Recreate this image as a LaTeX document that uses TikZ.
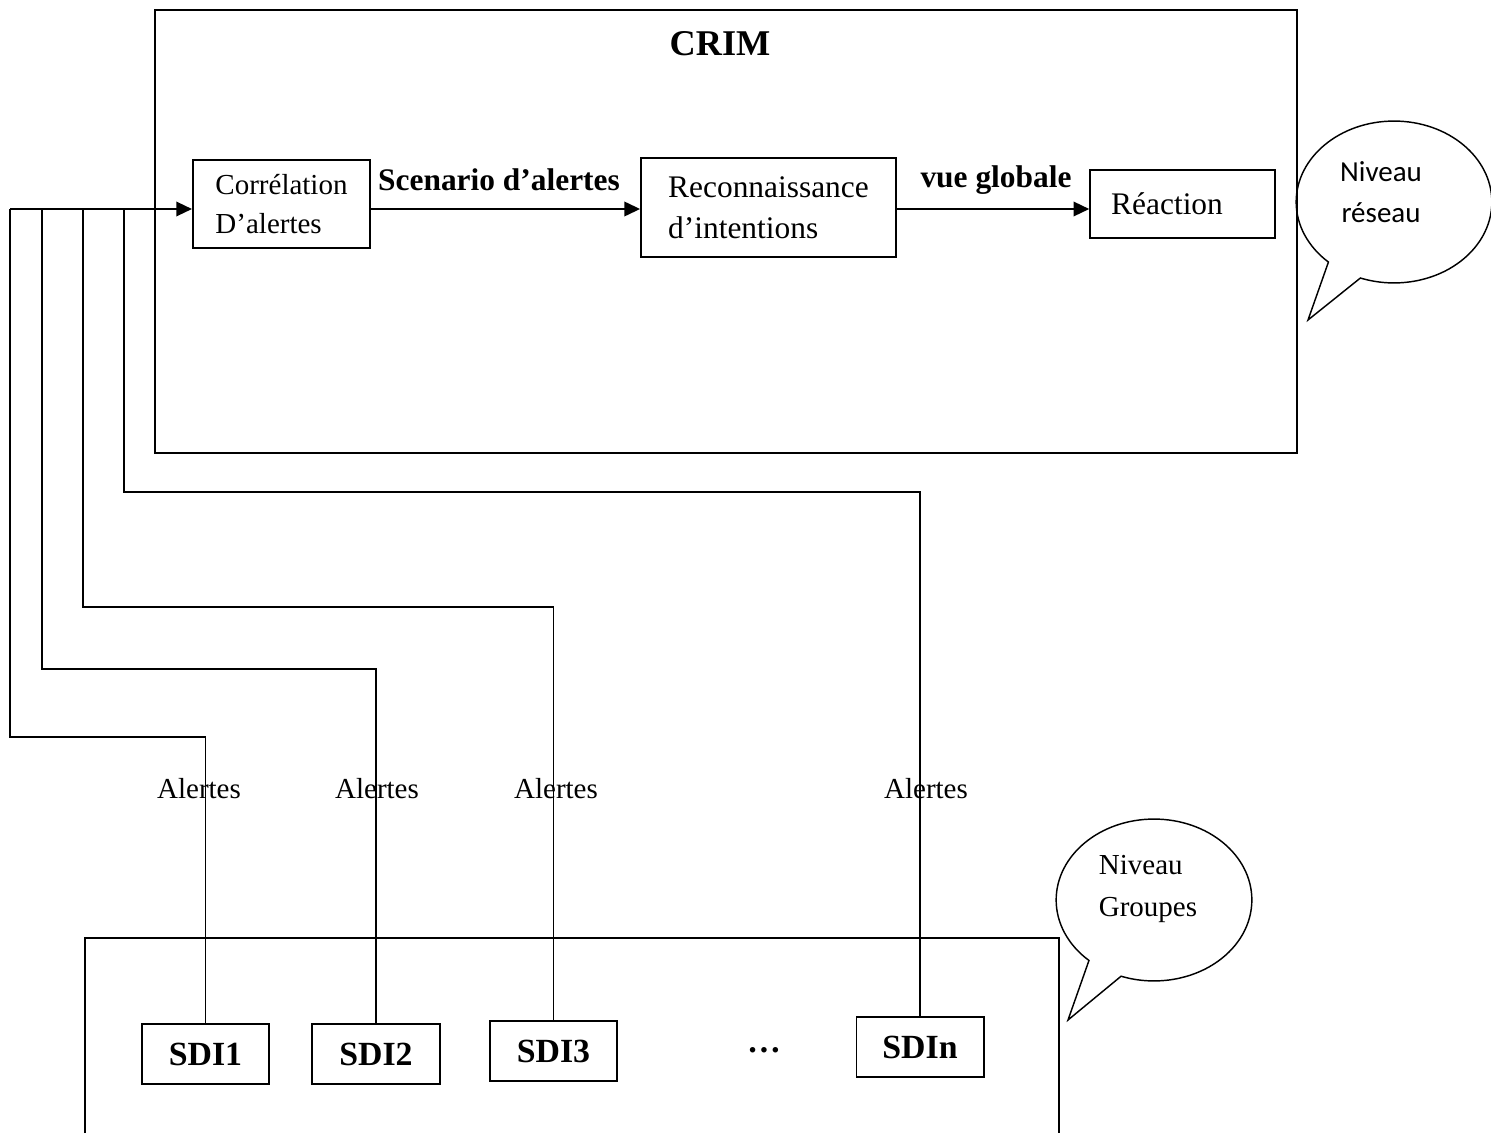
\documentclass[tikz,border=0pt]{standalone}
\usepackage{fontspec}
\setmainfont{Liberation Serif}
\newfontfamily\calibri{Carlito}
\usetikzlibrary{arrows.meta, shapes.callouts, fit, calc}

\begin{document}
\begin{tikzpicture}[x=0.4139pt, y=-0.4139pt, line width=0.8pt,
    box/.style={draw, rectangle, inner sep=0pt, align=left},
    sdi/.style={draw, rectangle, minimum width=52.6pt, minimum height=24.8pt, font=\fontsize{14}{17}\selectfont\bfseries},
    flow/.style={-{Triangle[length=6.5pt, width=6pt]}},
    bulle/.style={draw, ellipse callout, line width=0.6pt, minimum width=81pt, minimum height=67pt, callout pointer arc=22},
    lbl/.style={font=\fontsize{12}{14}\selectfont}]
	\useasboundingbox (0,0) rectangle (1491,1133);
	% niveau reseau
	\node[draw, fit={(155,10) (1297,453)}, inner sep=0pt] (crim) {};
	\node[font=\fontsize{15}{18}\selectfont\bfseries] (titre) at (720,44) {CRIM};
	\node[box, minimum width=73.3pt, minimum height=36.4pt, font=\fontsize{12}{16}\selectfont] (corr) at (281.5,204) {Corrélation\\D’alertes};
	\node[box, minimum width=105.5pt, minimum height=41pt, font=\fontsize{13}{17}\selectfont] (reco) at (768.5,207.5) {Reconnaissance\\d’intentions};
	\node[box, text width=59pt, inner xsep=8.7pt, minimum height=28.1pt, font=\fontsize{13}{16}\selectfont] (reac) at (1182.5,204) {Réaction};
	\coordinate (ligne) at (0,209);
	\draw[flow] (corr.east |- ligne) -- (reco.west |- ligne);
	\node[font=\fontsize{13}{16}\selectfont\bfseries] (scen) at (499,180) {Scenario d’alertes};
	\draw[flow] (reco.east |- ligne) -- (reac.west |- ligne);
	\node[font=\fontsize{13}{16}\selectfont\bfseries] (vue) at (996,180) {vue globale};
	% bus des alertes
	\coordinate (k0) at (10,209);
	\draw[flow] (k0) -- (corr.west |- ligne);
	% niveau groupes
	\draw (85,1133) -- (85,938) -- (1059,938) -- (1059,1133);
	\node[sdi] (s1) at (205.5,1054) {SDI1};
	\node[sdi] (s2) at (376,1054) {SDI2};
	\node[sdi] (s3) at (553.5,1051) {SDI3};
	\node[sdi] (sn) at (920,1047) {SDIn};
	\node[font=\fontsize{14}{17}\selectfont\bfseries] (pts) at (764,1050) {\dots};
	\foreach \x/\y/\s [count=\i] in {10/737/s1, 42/669/s2, 83/607/s3, 124/492/sn} {
		\coordinate (k\i) at (\x,209);
		\draw (k\i) -- (\x,\y) -| (\s.north);
	}
	\foreach \x in {199,377,556,926}
		\node[lbl] (a\x) at (\x,789) {Alertes};
	% bulles
	\coordinate (p1) at (1308,320);
	\node[bulle, callout absolute pointer={(p1)}] (c1) at (1394,202) {};
	\node[font=\calibri\fontsize{12}{17}\selectfont, align=center] (t1) at (1381,192) {Niveau\\réseau};
	\coordinate (p2) at (1068,1020);
	\node[bulle, callout absolute pointer={(p2)}] (c2) at (1154,900) {};
	\node[lbl, align=left, font=\fontsize{12}{17.4}\selectfont] (t2) at (1148,889) {Niveau\\Groupes};
\end{tikzpicture}
\end{document}
